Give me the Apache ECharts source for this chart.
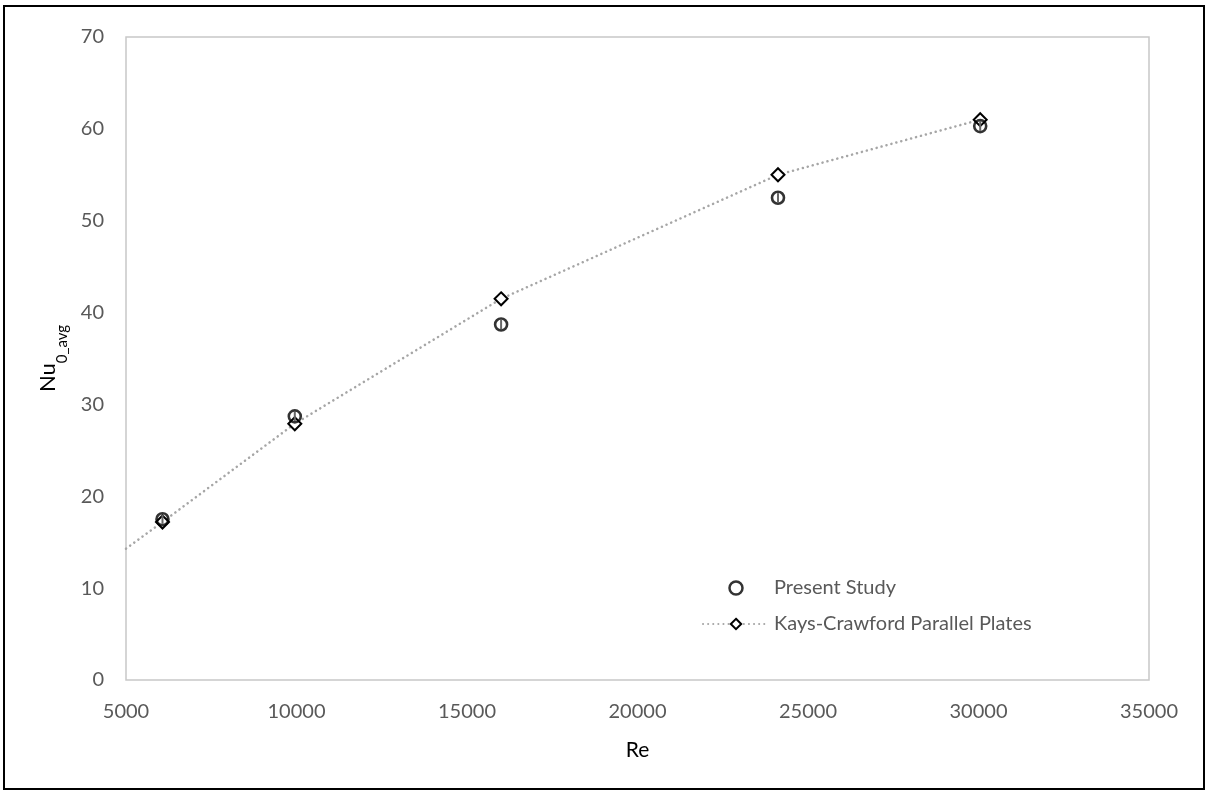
<!DOCTYPE html>
<html>
<head>
<meta charset="utf-8">
<script src="https://cdn.jsdelivr.net/npm/echarts@6/dist/echarts.min.js"></script>
<style>
html,body{margin:0;padding:0;background:#fff;}
#chart{width:1208px;height:793px;}
</style>
</head>
<body>
<div id="chart"></div>
<script>
// ---- data ----
const xTicks = [5000, 10000, 15000, 20000, 25000, 30000, 35000];
const yTicks = [0, 10, 20, 30, 40, 50, 60, 70];

const studyRe = [6070, 9950, 16000, 24120, 30050];
const studyNu = [17.5, 28.7, 38.7, 52.5, 60.3];
const studyErr = [0.5, 0.5, 0.5, 0.5, 0.5];

const kcRe = [5000, 6070, 9950, 16000, 24120, 30050];
const kcNu = [14.3, 17.2, 27.9, 41.5, 55.0, 61.0];
const kcMarker = [false, true, true, true, true, true];

const seriesNames = ['Present Study', 'Kays-Crawford Parallel Plates'];

const FONT = 'Lato';
const chart = echarts.init(document.getElementById('chart'), null, {renderer: 'canvas'});

const studyData = studyRe.map((x, i) => [x, studyNu[i]]);
const errData = studyRe.map((x, i) => [x, studyNu[i] - studyErr[i], studyNu[i] + studyErr[i]]);
const kcData = kcRe.map((x, i) => kcMarker[i] ? [x, kcNu[i]] : {value: [x, kcNu[i]], symbol: 'none'});

chart.setOption({
  backgroundColor: '#fff',
  animation: false,
  textStyle: {fontFamily: FONT},
  graphic: [{
    type: 'rect', silent: true, z: 100,
    shape: {x: 4, y: 6, width: 1200, height: 783},
    style: {fill: 'none', stroke: '#000', lineWidth: 2}
  }],
  grid: {
    left: 126, right: 59, top: 37, bottom: 113,
    show: true, borderColor: '#c8c8c8', borderWidth: 1.5, backgroundColor: 'transparent'
  },
  legend: {
    left: 697, top: 573, orient: 'vertical',
    itemWidth: 66, itemHeight: 13, itemGap: 16,
    textStyle: {fontFamily: FONT, fontSize: 20, color: '#595959'},
    data: [
      {name: seriesNames[0], icon: 'circle', itemStyle: {color: '#fff', borderColor: '#000', borderWidth: 2.5}},
      {name: seriesNames[1]}
    ]
  },
  xAxis: {
    type: 'value', min: xTicks[0], max: xTicks[xTicks.length - 1], interval: xTicks[1] - xTicks[0],
    name: 'Re', nameLocation: 'middle', nameGap: 60,
    nameTextStyle: {fontFamily: FONT, fontSize: 21, color: '#000'},
    axisLine: {show: false}, axisTick: {show: false}, splitLine: {show: false},
    axisLabel: {fontFamily: FONT, fontSize: 20, color: '#595959', margin: 22, formatter: v => String(v)}
  },
  yAxis: {
    type: 'value', min: yTicks[0], max: yTicks[yTicks.length - 1], interval: yTicks[1] - yTicks[0],
    name: '{a|Nu}{b|0_avg}', nameLocation: 'middle', nameGap: 50, nameRotate: 90,
    nameTextStyle: {
      fontFamily: FONT, color: '#000',
      rich: {
        a: {fontFamily: FONT, fontSize: 22, color: '#000', lineHeight: 26, verticalAlign: 'top'},
        b: {fontFamily: FONT, fontSize: 15, color: '#000', lineHeight: 33, verticalAlign: 'bottom'}
      }
    },
    axisLine: {show: false}, axisTick: {show: false}, splitLine: {show: false},
    axisLabel: {fontFamily: FONT, fontSize: 20, color: '#595959', margin: 22}
  },
  series: [
    {
      name: seriesNames[1], type: 'line', data: kcData, z: 2,
      symbol: 'diamond', symbolSize: [13, 13], showSymbol: true,
      lineStyle: {color: '#a6a6a6', width: 2.5, type: [0.1, 5], cap: 'round'},
      itemStyle: {color: '#fff', borderColor: '#000', borderWidth: 2}
    },
    {
      name: 'err', type: 'custom', data: errData, z: 3,
      renderItem: function (params, api) {
        const p1 = api.coord([api.value(0), api.value(1)]);
        const p2 = api.coord([api.value(0), api.value(2)]);
        return {type: 'line', shape: {x1: p1[0], y1: p1[1], x2: p2[0], y2: p2[1]},
          style: {stroke: '#666', lineWidth: 2}};
      }
    },
    {
      name: seriesNames[0], type: 'scatter', data: studyData, z: 4,
      symbol: 'circle', symbolSize: 12,
      itemStyle: {color: 'rgba(255,255,255,0)', borderColor: '#000', borderWidth: 2.6}
    }
  ]
});
</script>
</body>
</html>
